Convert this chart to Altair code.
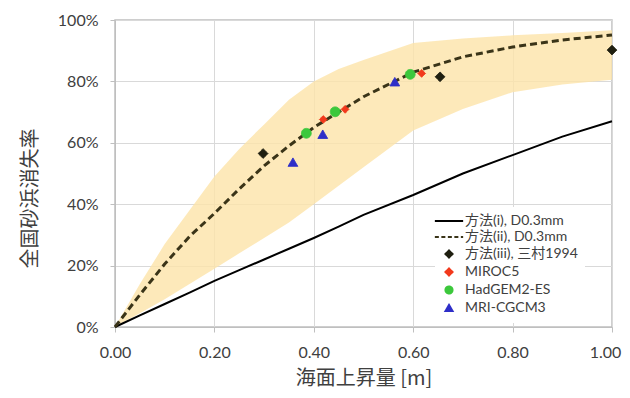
import altair as alt
import pandas as pd

# ---- data ----
slr = [0.0, 0.05, 0.1, 0.15, 0.2, 0.25, 0.3, 0.35, 0.4, 0.45, 0.5, 0.6, 0.7, 0.8, 0.9, 1.0]
method_i = [0.0, 0.038, 0.075, 0.112, 0.15, 0.185, 0.22, 0.255, 0.29, 0.327, 0.365, 0.43, 0.50, 0.56, 0.62, 0.67]
method_ii = [0.0, 0.105, 0.205, 0.295, 0.37, 0.45, 0.525, 0.59, 0.65, 0.70, 0.75, 0.83, 0.88, 0.912, 0.935, 0.951]
band_upper = [0.0, 0.14, 0.27, 0.38, 0.49, 0.58, 0.66, 0.74, 0.80, 0.84, 0.87, 0.925, 0.94, 0.95, 0.958, 0.967]
band_lower = [0.0, 0.045, 0.09, 0.14, 0.19, 0.24, 0.29, 0.34, 0.40, 0.46, 0.52, 0.64, 0.71, 0.765, 0.79, 0.805]

series_names = ["方法(i), D0.3mm", "方法(ii), D0.3mm", "方法(iii), 三村1994",
                "MIROC5", "HadGEM2-ES", "MRI-CGCM3"]
series_colors = ["#000000", "#3a3418", "#1f1f10", "#f2391c", "#3cc83c", "#2e2ec8"]
series_shapes = ["M-4,0H4", "M-4,0H4", "diamond", "diamond", "circle", "triangle-up"]
series_dash = [[1, 0], [4, 2.5], [1, 0], [1, 0], [1, 0], [1, 0]]

mimura_x = [0.298, 0.654, 1.0]
mimura_y = [0.565, 0.815, 0.902]
miroc_x = [0.419, 0.463, 0.617]
miroc_y = [0.676, 0.709, 0.826]
had_x = [0.385, 0.443, 0.594]
had_y = [0.631, 0.701, 0.823]
mri_x = [0.358, 0.418, 0.563]
mri_y = [0.537, 0.628, 0.799]

x_ticks = [0.0, 0.2, 0.4, 0.6, 0.8, 1.0]
y_ticks = [0.0, 0.2, 0.4, 0.6, 0.8, 1.0]

# ---- tables ----
curves = pd.DataFrame({"slr": slr, "i": method_i, "ii": method_ii,
                       "up": band_upper, "lo": band_lower})
pts = pd.DataFrame({
    "slr": mimura_x + miroc_x + had_x + mri_x,
    "rate": mimura_y + miroc_y + had_y + mri_y,
    "series": [series_names[2]] * 3 + [series_names[3]] * 3
              + [series_names[4]] * 3 + [series_names[5]] * 3,
})

FONT = "Lato, Noto Sans CJK JP, sans-serif"
CJK = "Noto Sans CJK JP, sans-serif"

xscale = alt.Scale(domain=[0, 1], nice=False)
yscale = alt.Scale(domain=[0, 1], nice=False)

xenc = alt.X("slr:Q", scale=xscale,
             axis=alt.Axis(title="海面上昇量 [m]", values=x_ticks, format=".2f",
                           labelFlush=False, labelPadding=12, titlePadding=8,
                           labelOffset=alt.ExprRef(expr="datum.value == 1 ? -7 : 0")))
yenc = alt.Y("lo:Q", scale=yscale,
             axis=alt.Axis(title="全国砂浜消失率", values=y_ticks, format=".0%",
                           labelFlush=False, labelPadding=12, titlePadding=17,
                           titleY=178))

band = alt.Chart(curves).mark_area(color="#fde4a9", opacity=0.8).encode(
    x=xenc, y=yenc, y2="up:Q"
)

line_i = alt.Chart(curves).mark_line(color="#000000", strokeWidth=2).encode(
    x="slr:Q", y="i:Q"
)
line_ii = alt.Chart(curves).mark_line(color="#3a3418", strokeWidth=3,
                                      strokeDash=[7, 4]).encode(
    x="slr:Q", y="ii:Q"
)

legend = alt.Legend(
    title=None, orient="none", legendX=320, legendY=187,
    symbolSize=50, symbolStrokeWidth=2, labelOffset=9, rowPadding=2,
    padding=7, fillColor="white", labelFontSize=14, labelColor="#404040",
    labelFont=FONT, labelLimit=300,
)

points = alt.Chart(pts).mark_point(filled=True, strokeWidth=1, opacity=1).encode(
    x="slr:Q",
    y=alt.Y("rate:Q"),
    fill=alt.Fill("series:N", scale=alt.Scale(domain=series_names, range=series_colors),
                  legend=legend, sort=series_names),
    stroke=alt.Stroke("series:N", scale=alt.Scale(domain=series_names, range=series_colors),
                      legend=legend, sort=series_names),
    shape=alt.Shape("series:N", scale=alt.Scale(domain=series_names, range=series_shapes),
                    legend=legend, sort=series_names),
    strokeDash=alt.StrokeDash("series:N", scale=alt.Scale(domain=series_names, range=series_dash),
                              legend=legend, sort=series_names),
    size=alt.condition(alt.datum.series == "MIROC5", alt.value(60), alt.value(95)),
)

chart = alt.layer(band, line_i, line_ii, points).properties(
    width=497, height=307,
    autosize=alt.AutoSizeParams(type="none"),
    padding={"left": 107, "top": 12, "right": 10, "bottom": 63},
).configure_view(
    stroke="#bfbfbf", strokeWidth=1.5
).configure_axis(
    gridColor="#d9d9d9", domainColor="#bfbfbf", tickColor="#bfbfbf", tickSize=5,
    labelFont=FONT, titleFont=CJK, labelFontSize=16, titleFontSize=20,
    labelColor="#404040", titleColor="#404040", titleFontWeight="normal",
)

chart.save("out.html", embed_options={"renderer": "svg", "actions": False})
